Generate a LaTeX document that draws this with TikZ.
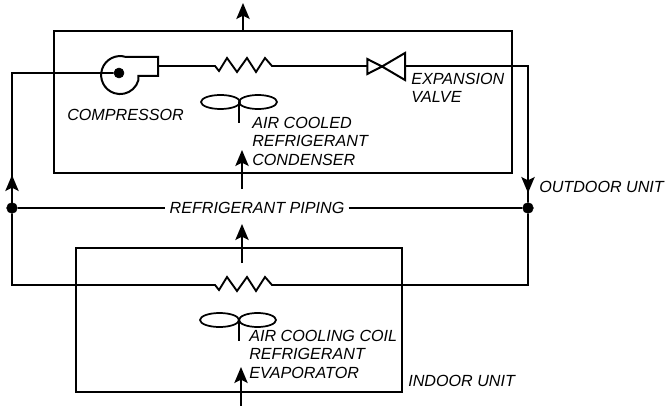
\documentclass[tikz,border=0pt]{standalone}
\usepackage{fontspec}
\setmainfont{Liberation Sans}
\usetikzlibrary{arrows.meta}
\tikzset{
    pipe/.style={line width=1.4pt},
    flow/.style={line width=1.4pt,-{Stealth[length=12pt,width=10pt,inset=2.5pt]}},
    unitbox/.style={draw,line width=1.5pt},
    dot/.style={draw,fill,circle,inner sep=0pt,minimum size=8pt},
    lbl/.style={font=\fontsize{12.1}{14}\selectfont\itshape,inner sep=0pt,anchor=west,text height=8.7pt,text depth=0pt},
}
\begin{document}
\begin{tikzpicture}[x=0.75pt,y=-0.75pt]
    \useasboundingbox (0,0) rectangle (667,406);
    \draw[unitbox] (54,31) rectangle (512,173);
    \draw[unitbox] (76,248) rectangle (402,392);
    % air flow
    \coordinate (outbot) at (243,31);
    \coordinate (outtop) at (243,3);
    \coordinate (condin) at (242,189);
    \coordinate (condtip) at (242,150);
    \coordinate (evapout) at (242,263);
    \coordinate (evaptip) at (242,224);
    \coordinate (evapin) at (241,406);
    \coordinate (evapintip) at (241,367);
    \draw[flow] (outbot) -- (outtop);
    \draw[flow] (condin) -- (condtip);
    \draw[flow] (evapout) -- (evaptip);
    \draw[flow] (evapin) -- (evapintip);
    % compressor
    \draw[line width=1.5pt] (126,57) arc[start angle=-72,end angle=-345,radius=19] -- (138.4,76) -- (158,76) -- (158,57) -- cycle;
    \node[dot,minimum size=7.5pt] (shaft) at (119,73) {};
    % condenser coil and valve
    \coordinate (compout) at (158,66);
    \coordinate (coilin) at (215,66);
    \coordinate (coilout) at (272,66);
    \draw[pipe] (compout) -- (coilin) -- (219,71) -- (227,58) -- (237,72) -- (247,58) -- (256,72) -- (265,58) -- (coilout) -- (367,66);
    \coordinate (valve) at (382,66.5);
    \draw[line width=1.5pt] (367.3,59) -- (367.3,74) -- (valve) -- cycle;
    \draw[line width=1.5pt] (405,53) -- (405,80) -- (valve) -- cycle;
    % pipes
    \node[dot] (jleft) at (12,208) {};
    \node[dot] (jright) at (528,208) {};
    \coordinate (topleft) at (12,73);
    \coordinate (topright) at (528,66);
    \coordinate (botleft) at (12,285);
    \coordinate (botright) at (528,285);
    \coordinate (valveout) at (405,66);
    \draw[pipe] (shaft) -- (topleft) -- (jleft) -- (botleft) -- (215,285) -- (219,290) -- (227,277) -- (237,291) -- (247,277) -- (256,291) -- (265,277) -- (272,285) -- (botright) -- (jright) -- (topright) -- (valveout);
    \coordinate (upbase) at (12,208);
    \coordinate (uptip) at (12,175);
    \coordinate (downbase) at (528,150);
    \coordinate (downtip) at (528,193);
    \draw[flow] (upbase) -- (uptip);
    \draw[flow] (downbase) -- (downtip);
    \node[lbl,anchor=center,inner sep=3pt] (piping) at (257,208) {REFRIGERANT PIPING};
    \draw[pipe,line width=1.2pt] (jleft) -- (piping) -- (jright);
    % fans
    \draw[line width=1.3pt] (220.5,102) ellipse (19.5 and 7);
    \draw[line width=1.3pt] (258,102) ellipse (19 and 7);
    \coordinate (fanup) at (239,102);
    \coordinate (fanlow) at (239,123);
    \draw[line width=1.3pt] (fanup) -- (fanlow);
    \draw[line width=1.3pt] (219.5,320) ellipse (19.5 and 7);
    \draw[line width=1.3pt] (257.5,320) ellipse (18.5 and 7);
    \coordinate (fan2up) at (239,320);
    \coordinate (fan2low) at (239,341);
    \draw[line width=1.3pt] (fan2up) -- (fan2low);
    % labels
    \node[lbl] (complbl) at (67,115) {COMPRESSOR};
    \node[lbl] (condair) at (252,123) {AIR COOLED};
    \node[lbl] (condref) at (252,141) {REFRIGERANT};
    \node[lbl] (condcon) at (252,160) {CONDENSER};
    \node[lbl] (expone) at (411,79) {EXPANSION};
    \node[lbl] (exptwo) at (411,97) {VALVE};
    \node[lbl] (outlbl) at (539,187) {OUTDOOR UNIT};
    \node[lbl] (evapair) at (249,336) {AIR COOLING COIL};
    \node[lbl] (evapref) at (249,354) {REFRIGERANT};
    \node[lbl] (evapcon) at (249,373) {EVAPORATOR};
    \node[lbl] (inlbl) at (408,381) {INDOOR UNIT};
\end{tikzpicture}
\end{document}
